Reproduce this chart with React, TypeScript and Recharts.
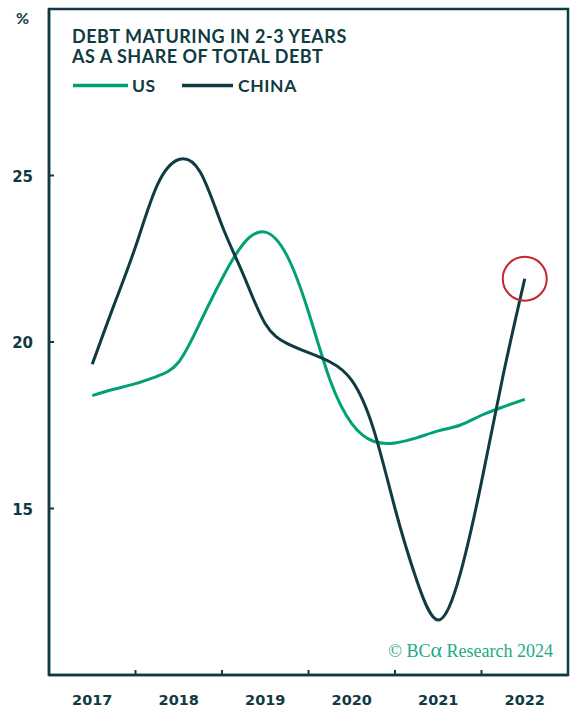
import { LineChart, Line, XAxis, YAxis, ReferenceArea, ReferenceDot } from 'recharts';

const DARK = '#0f3b42';
const GREEN = '#02a077';
const RED = '#c2272d';

// quarterly observations, 2017Q1 .. 2022Q1
const periods = [
  2017.0, 2017.25, 2017.5, 2017.75,
  2018.0, 2018.25, 2018.5, 2018.75,
  2019.0, 2019.25, 2019.5, 2019.75,
  2020.0, 2020.25, 2020.5, 2020.75,
  2021.0, 2021.25, 2021.5, 2021.75,
  2022.0,
];
const usShare = [
  18.39, 18.58, 18.75, 18.97,
  19.4, 20.6, 21.9, 22.96,
  23.3, 22.6, 20.9, 18.85,
  17.55, 17.02, 16.97, 17.12,
  17.33, 17.5, 17.8, 18.05,
  18.28,
];
const chinaShare = [
  19.33, 21.1, 22.86, 24.7,
  25.48, 25.1, 23.5, 22.0,
  20.55, 19.96, 19.68, 19.4,
  18.85, 17.4, 15.0, 12.85,
  11.65, 13.0, 15.8, 19.0,
  21.9,
];
const yearLabels = [2017, 2018, 2019, 2020, 2021, 2022];
const valueTicks = [15, 20, 25];

const data = periods.map((t, i) => ({ t, us: usShare[i], china: chinaShare[i] }));

// labels sit on the years, tick marks on the year boundaries
const xTicks = [...yearLabels, ...yearLabels.slice(0, -1).map((y) => y + 0.5)].sort((a, b) => a - b);

const fontSans = 'Lato, "Open Sans", sans-serif';
const fontWide = '"DejaVu Sans", Lato, sans-serif';

function YearTick(props: any) {
  const { x, y, payload } = props;
  if (Number.isInteger(payload.value)) {
    return (
      <text x={x} y={y + 30} textAnchor="middle" fill={DARK} fontSize={14.5} fontWeight={700} fontFamily={fontWide}>
        {payload.value}
      </text>
    );
  }
  return <line x1={x} x2={x} y1={y} y2={y - 5} stroke={DARK} strokeWidth={2} />;
}

function ValueTick(props: any) {
  const { x, y, payload } = props;
  return (
    <g>
      <line x1={x} x2={x + 5} y1={y} y2={y} stroke={DARK} strokeWidth={2} />
      <text x={x - 16} y={y + 6} textAnchor="end" fill={DARK} fontSize={15} fontWeight={700} fontFamily={fontWide}>
        {payload.value}
      </text>
    </g>
  );
}

export default function App() {
  return (
    <div style={{ position: 'absolute', left: 0, top: 0, width: 572, height: 711, background: '#fff' }}>
      <LineChart width={572} height={711} data={data} margin={{ top: 9, right: 4, bottom: 0, left: 0 }}>
        <ReferenceArea x1={2016.5} x2={2022.5} y1={10} y2={30} fill="none" stroke={DARK} strokeWidth={2.5} />
        <XAxis
          dataKey="t"
          type="number"
          domain={[2016.5, 2022.5]}
          ticks={xTicks}
          interval={0}
          height={36}
          tickLine={false}
          tickSize={0}
          tickMargin={0}
          axisLine={{ stroke: DARK, strokeWidth: 2.5 }}
          tick={<YearTick />}
        />
        <YAxis
          type="number"
          domain={[10, 30]}
          ticks={valueTicks}
          interval={0}
          width={49}
          tickLine={false}
          tickSize={0}
          tickMargin={0}
          axisLine={{ stroke: DARK, strokeWidth: 2.5 }}
          tick={<ValueTick />}
        />
        <Line type="natural" dataKey="us" stroke={GREEN} strokeWidth={3} dot={false} isAnimationActive={false} />
        <Line type="natural" dataKey="china" stroke={DARK} strokeWidth={3} dot={false} isAnimationActive={false} />
        <ReferenceDot x={2022} y={chinaShare[chinaShare.length - 1]} r={22} fill="none" stroke={RED} strokeWidth={2} />
      </LineChart>
      <svg width={572} height={711} style={{ position: 'absolute', left: 0, top: 0, pointerEvents: 'none' }}>
        <text x={16} y={24} fill={DARK} fontSize={16} fontWeight={700} fontFamily={fontSans}>%</text>
        <text x={72} y={42.5} fill={DARK} fontSize={18} fontWeight={700} letterSpacing={0.5} fontFamily={fontSans}>
          DEBT MATURING IN 2-3 YEARS
        </text>
        <text x={72} y={63.3} fill={DARK} fontSize={18} fontWeight={700} letterSpacing={0.5} fontFamily={fontSans}>
          AS A SHARE OF TOTAL DEBT
        </text>
        <line x1={73} x2={128} y1={85.5} y2={85.5} stroke={GREEN} strokeWidth={3.5} />
        <text x={132} y={91.7} fill={DARK} fontSize={17.5} fontWeight={700} letterSpacing={0.6} fontFamily={fontSans}>US</text>
        <line x1={182} x2={233} y1={85.5} y2={85.5} stroke={DARK} strokeWidth={3.5} />
        <text x={238} y={91.7} fill={DARK} fontSize={17.5} fontWeight={700} letterSpacing={0.6} fontFamily={fontSans}>CHINA</text>
        <text x={553} y={657} textAnchor="end" fill="#1aab84" fontSize={18} fontFamily='"Liberation Serif", "DejaVu Serif", serif'>
          © BC<tspan fontSize={22}>α</tspan> Research 2024
        </text>
      </svg>
    </div>
  );
}
